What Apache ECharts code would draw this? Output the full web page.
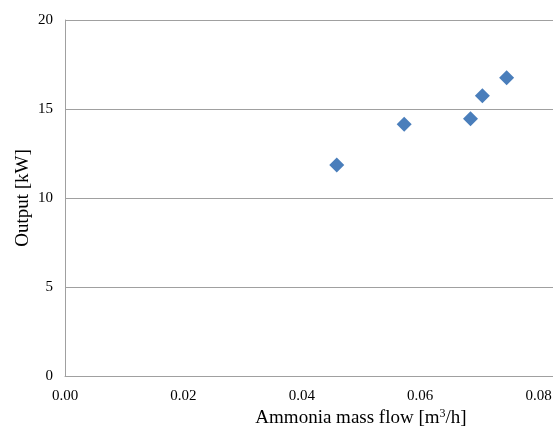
<!DOCTYPE html>
<html>
<head>
<meta charset="utf-8">
<script src="https://cdn.jsdelivr.net/npm/echarts@6/dist/echarts.min.js"></script>
<style>
  html, body { margin: 0; padding: 0; background: #fff; }
  #chart { width: 553px; height: 427px; }
</style>
</head>
<body>
<div id="chart"></div>
<script>
// Ammonia flow (m³/h) against electrical output (kW)
const flowValues = [0.0459, 0.0573, 0.0685, 0.0705, 0.0746];
const outputValues = [11.85, 14.15, 14.45, 15.75, 16.75];

const xTickMin = 0, xTickMax = 0.1, xTickStep = 0.02;
const yTickMin = 0, yTickMax = 20, yTickStep = 5;

const serif = '"Liberation Serif", "Times New Roman", serif';
const gridGrey = '#a0a0a0';

const points = flowValues.map((x, i) => [x, outputValues[i]]);

const chart = echarts.init(document.getElementById('chart'));
chart.setOption({
  animation: false,
  backgroundColor: '#ffffff',
  // plot area runs past the right edge of the canvas
  grid: { left: 65, top: 20, width: 592, height: 356, containLabel: false, outerBoundsMode: 'none' },
  xAxis: {
    type: 'value',
    min: xTickMin, max: xTickMax, interval: xTickStep,
    name: 'Ammonia mass flow [m{sup|3}/h]',
    nameLocation: 'middle',
    nameGap: 32,
    nameMoveOverlap: false,
    nameTextStyle: {
      fontFamily: serif, fontSize: 19, color: '#000',
      rich: { sup: { fontFamily: serif, fontSize: 12, verticalAlign: 'top', padding: [0, 0, 8, 0], color: '#000' } }
    },
    axisLine: { show: true, lineStyle: { color: gridGrey, width: 1 } },
    axisTick: { show: false },
    splitLine: { show: false },
    axisLabel: {
      margin: 13, color: '#000', fontFamily: serif, fontSize: 15,
      formatter: v => v.toFixed(2)
    }
  },
  yAxis: {
    type: 'value',
    min: yTickMin, max: yTickMax, interval: yTickStep,
    name: 'Output [kW]',
    nameLocation: 'middle',
    nameGap: 32,
    nameMoveOverlap: false,
    nameTextStyle: { fontFamily: serif, fontSize: 19, color: '#000' },
    axisLine: { show: true, lineStyle: { color: gridGrey, width: 1 } },
    axisTick: { show: false },
    splitLine: { show: true, lineStyle: { color: gridGrey, width: 1 } },
    axisLabel: { margin: 12, color: '#000', fontFamily: serif, fontSize: 15 }
  },
  series: [{
    type: 'scatter',
    data: points,
    symbol: 'diamond',
    symbolSize: 15,
    itemStyle: { color: '#4a7ebb', opacity: 1 }
  }]
});
</script>
</body>
</html>
